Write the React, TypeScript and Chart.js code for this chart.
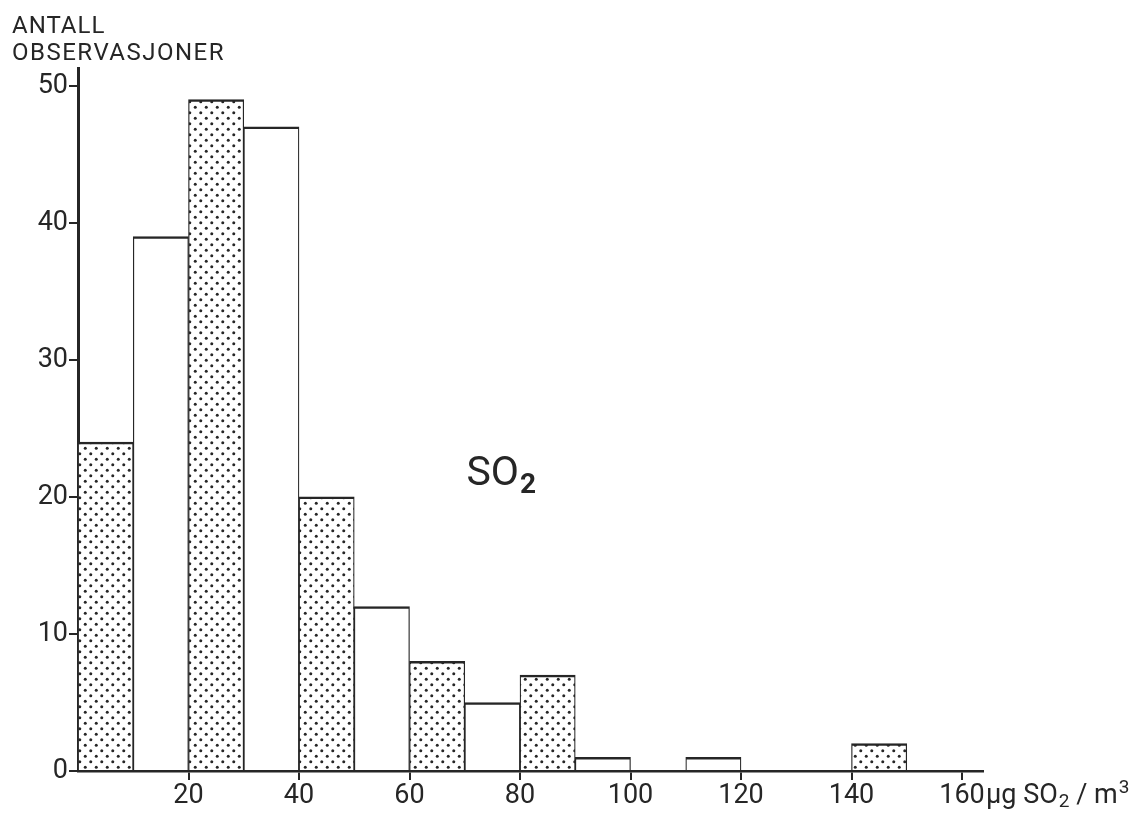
import React, { useEffect, useRef } from "react";
import { Chart, registerables } from "chart.js";

Chart.register(...registerables);

// ---- data ----
const binStarts = [0, 10, 20, 30, 40, 50, 60, 70, 80, 90, 100, 110, 120, 130, 140, 150];
const counts = [24, 39, 49, 47, 20, 12, 8, 5, 7, 1, 0, 1, 0, 0, 2, 0];
const binWidth = 10;
const xTickValues = [20, 40, 60, 80, 100, 120, 140, 160];
const yTickValues = [0, 10, 20, 30, 40, 50];
const yTitleLines = ["ANTALL", "OBSERVASJONER"];
const innerLabel = { main: "SO", sub: "2" };
const unitLabel = { a: "µg SO", sub: "2", b: " / m", sup: "3" };

const INK = "#262626";
const FONT = "Roboto, 'DejaVu Sans', sans-serif";

function makeDotPattern(): CanvasPattern | string {
  const c = document.createElement("canvas");
  c.width = 11;
  c.height = 11;
  const g = c.getContext("2d");
  if (!g) return "#ddd";
  g.fillStyle = "#ffffff";
  g.fillRect(0, 0, 11, 11);
  g.fillStyle = "#262626";
  const dots = [
    [2.75, 2.75],
    [8.25, 8.25],
  ];
  for (const [x, y] of dots) {
    g.beginPath();
    g.arc(x, y, 1.5, 0, Math.PI * 2);
    g.fill();
  }
  const p = g.createPattern(c, "repeat");
  return p || "#ddd";
}

const textPlugin = {
  id: "textPlugin",
  afterDraw(chart: any) {
    const ctx = chart.ctx as CanvasRenderingContext2D;
    const xs = chart.scales.x;
    const ys = chart.scales.y;
    ctx.save();
    ctx.fillStyle = INK;
    ctx.textBaseline = "alphabetic";
    ctx.textAlign = "left";

    // y-axis title (two lines, top-left)
    ctx.font = `24px ${FONT}`;
    (ctx as any).letterSpacing = "1px";
    ctx.fillText(yTitleLines[0], 12, 33);
    (ctx as any).letterSpacing = "1.5px";
    ctx.fillText(yTitleLines[1], 12, 60);
    (ctx as any).letterSpacing = "0px";

    // inner label SO2
    const lx = xs.getPixelForValue(70.3);
    const ly = ys.getPixelForValue(20.9);
    ctx.font = `41px ${FONT}`;
    ctx.fillText(innerLabel.main, lx, ly);
    const w1 = ctx.measureText(innerLabel.main).width;
    ctx.font = `bold 28px ${FONT}`;
    ctx.fillText(innerLabel.sub, lx + w1 + 1, ly + 8);

    // unit label after the last x tick
    const last = xTickValues[xTickValues.length - 1];
    let ux = xs.getPixelForValue(last) + 24;
    const uy = xs.bottom - 11;
    ctx.font = `27px ${FONT}`;
    ctx.fillText(unitLabel.a, ux, uy);
    ux += ctx.measureText(unitLabel.a).width + 1;
    ctx.font = `19px ${FONT}`;
    ctx.fillText(unitLabel.sub, ux, uy + 4);
    ux += ctx.measureText(unitLabel.sub).width;
    ctx.font = `27px ${FONT}`;
    ctx.fillText(unitLabel.b, ux, uy);
    ux += ctx.measureText(unitLabel.b).width + 1;
    ctx.font = `19px ${FONT}`;
    ctx.fillText(unitLabel.sup, ux, uy - 10);
    ctx.restore();
  },
};

const whiteBg = {
  id: "whiteBg",
  beforeDraw(chart: any) {
    const ctx = chart.ctx;
    ctx.save();
    ctx.fillStyle = "#ffffff";
    ctx.fillRect(0, 0, chart.width, chart.height);
    ctx.restore();
  },
};

export default function App() {
  const ref = useRef<HTMLCanvasElement | null>(null);

  useEffect(() => {
    if (!ref.current) return;
    const pattern = makeDotPattern();
    const data = binStarts.map((s, i) => ({ x: s + binWidth / 2, y: counts[i] }));
    const fills = binStarts.map((_, i) => (i % 2 === 0 ? pattern : "#ffffff"));

    const chart = new Chart(ref.current, {
      type: "bar",
      data: {
        datasets: [
          {
            data: data as any,
            backgroundColor: fills as any,
            borderColor: INK,
            borderWidth: { top: 2.5, left: 1.25, right: 1.25, bottom: 0 } as any,
            borderSkipped: false as any,
            barPercentage: 1,
            categoryPercentage: 1,
          },
        ],
      },
      options: {
        animation: false,
        responsive: false,
        events: [],
        layout: { padding: { top: 68, right: 146, left: 0, bottom: 0 } },
        plugins: { legend: { display: false }, tooltip: { enabled: false }, title: { display: false } },
        scales: {
          x: {
            type: "linear",
            min: 0,
            max: 163.8,
            offset: false,
            afterBuildTicks: (s: any) => {
              s.ticks = xTickValues.map((v) => ({ value: v }));
            },
            afterFit: (s: any) => {
              s.height = 43;
            },
            grid: { drawOnChartArea: false, drawTicks: true, tickLength: 9, color: INK, lineWidth: 2, offset: false },
            border: { display: true, color: INK, width: 2.5 },
            ticks: {
              font: { family: FONT, size: 27 },
              color: INK,
              padding: 0,
              maxRotation: 0,
              autoSkip: false,
              callback: (v: any) => String(v),
            },
          },
          y: {
            type: "linear",
            min: 0,
            max: 51.3,
            afterBuildTicks: (s: any) => {
              s.ticks = yTickValues.map((v) => ({ value: v }));
            },
            afterFit: (s: any) => {
              s.width = 78;
            },
            grid: { drawOnChartArea: false, drawTicks: true, tickLength: 9, color: INK, lineWidth: 2 },
            border: { display: true, color: INK, width: 3 },
            ticks: {
              font: { family: FONT, size: 27 },
              color: INK,
              padding: 1,
              autoSkip: false,
              callback: (v: any) => String(v),
            },
          },
        },
      },
      plugins: [whiteBg, textPlugin],
    });
    return () => chart.destroy();
  }, []);

  return (
    <div style={{ position: "absolute", left: 0, top: 0, width: 1129, height: 814, background: "#fff" }}>
      <canvas ref={ref} width={1129} height={814} style={{ display: "block" }} />
    </div>
  );
}
